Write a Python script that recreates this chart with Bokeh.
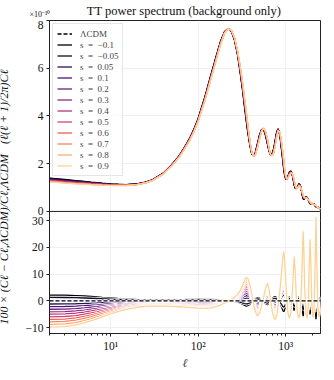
import numpy as np
from bokeh.plotting import figure
from bokeh.layouts import column, row
from bokeh.models import (Range1d, FixedTicker, Span, Legend, LegendItem)
from bokeh.core.properties import value
from bokeh.embed import file_html
from bokeh.resources import INLINE
from bokeh.palettes import Magma256

# ---------------- data ----------------
ell = [2, 3, 4, 5, 6, 7, 8, 10, 12, 15, 20, 25, 30, 40, 50, 60, 70, 80, 90, 100,
       120, 140, 150, 160, 180, 200, 220, 240, 260, 280, 300, 320, 340, 355, 370,
       390, 410, 430, 450, 475, 500, 530, 560, 590, 620, 645, 670, 700, 730, 760,
       790, 820, 860, 900, 930, 950, 970, 1000, 1030, 1060, 1100, 1140, 1180, 1220,
       1250, 1280, 1320, 1360, 1420, 1470, 1520, 1560, 1585, 1610, 1650, 1700, 1760,
       1810, 1860, 1900, 1940, 1990, 2050, 2110, 2170, 2220, 2270, 2330, 2400, 2500]

# LCDM  l(l+1)C_l/2pi  in units of 1e-10
dl_lcdm = [1.37, 1.31, 1.27, 1.24, 1.21, 1.19, 1.17, 1.14, 1.13, 1.12, 1.15, 1.22, 1.32,
           1.60, 1.95, 2.30, 2.68, 3.05, 3.45, 3.87, 4.80, 5.70, 6.08, 6.45, 7.10, 7.52,
           7.66, 7.55, 7.20, 6.65, 5.95, 5.20, 4.40, 3.85, 3.35, 2.80, 2.42, 2.33, 2.45,
           2.80, 3.15, 3.42, 3.45, 3.20, 2.85, 2.55, 2.38, 2.40, 2.60, 2.95, 3.30, 3.45,
           3.20, 2.60, 2.15, 1.85, 1.60, 1.38, 1.35, 1.45, 1.62, 1.68, 1.60, 1.35, 1.15,
           1.00, 0.96, 1.02, 1.15, 1.08, 0.85, 0.65, 0.56, 0.52, 0.55, 0.60, 0.58, 0.50,
           0.40, 0.34, 0.31, 0.32, 0.33, 0.30, 0.24, 0.20, 0.18, 0.17, 0.15, 0.11]

# percent residual of the s = 0.9 curve w.r.t. LCDM
resid_s09 = [-9.8, -9.6, -9.0, -8.2, -7.4, -6.7, -6.0, -4.9, -4.0, -3.2, -2.4, -2.1, -2.0,
             -2.0, -2.1, -2.2, -2.35, -2.5, -2.6, -2.7, -2.8, -2.6, -2.45, -2.2, -1.6, -0.8,
             -0.1, 0.5, 1.3, 2.2, 3.6, 5.6, 7.7, 8.8, 8.3, 6.0, 2.5, -1.0, -4.0, -5.6, -4.8,
             -2.0, 1.5, 4.8, 6.6, 4.5, 0.5, -3.5, -6.2, -7.0, -5.5, -2.0, 4.0, 11.0, 16.5,
             18.4, 16.0, 8.0, 0.5, -4.5, -6.5, -5.0, 1.0, 10.0, 16.6, 12.0, 2.0, -4.5, -6.5,
             -4.0, 6.0, 20.0, 26.0, 20.0, 5.0, -4.5, -6.5, -2.0, 14.0, 23.0, 14.0, -1.0,
             -6.0, -4.0, 14.0, 31.3, 14.0, -2.0, -6.0, -3.0]

s_values = [-0.1, -0.05, 0.05, 0.1, 0.2, 0.3, 0.4, 0.5, 0.6, 0.7, 0.8, 0.9]
# size of each model's residual relative to the s = 0.9 one
resid_scale = [-0.22, -0.13, 0.12, 0.22, 0.32, 0.42, 0.51, 0.61, 0.71, 0.80, 0.90, 1.00]

top_ticks = [0, 2, 4, 6, 8]
bot_ticks = [-10, 0, 10, 20, 30]
x_ticks = [10, 100, 1000]
x_tick_labels = ["10¹", "10²", "10³"]
x_minor = [2, 3, 4, 5, 6, 7, 8, 9, 20, 30, 40, 50, 60, 70, 80, 90,
           200, 300, 400, 500, 600, 700, 800, 900, 2000]

title_text = "TT power spectrum (background only)"
offset_text = "×10⁻¹⁰"
ylabel_top = "(ℓ(ℓ + 1)/2π)Cℓ"
ylabel_bot = "100 × (Cℓ − Cℓ,ΛCDM)/Cℓ,ΛCDM"

TOP_LO, TOP_HI = 0.0, 8.0
BOT_LO, BOT_HI = -12.2, 33.4
X_LO, X_HI = 2, 2500

# ---------------- layout ----------------
W, H = 326, 372
STRIP_H = 20      # title strip above the plot
LAB_W = 22        # y-label strip left of the plot
B_LEFT, B_RIGHT, B_BOT = 25, 6, 34
H_TOP, H_BOT = 194, 124          # pixel heights of the two stacked panels
MW, MH = W - LAB_W, H - STRIP_H
FW = MW - B_LEFT - B_RIGHT
SERIF = "Liberation Serif"

y_default = Range1d(BOT_LO, BOT_HI + (BOT_HI - BOT_LO) * H_TOP / H_BOT)
y_top = Range1d(TOP_LO - (TOP_HI - TOP_LO) * H_BOT / H_TOP, TOP_HI)

p = figure(width=MW, height=MH, x_axis_type="log", x_range=Range1d(X_LO, X_HI),
           y_range=y_default, output_backend="svg", toolbar_location=None,
           min_border_left=B_LEFT, min_border_right=B_RIGHT,
           min_border_top=0, min_border_bottom=B_BOT)
p.extra_y_ranges = {"top": y_top}
p.background_fill_color = "white"
p.border_fill_color = "white"
p.outline_line_color = "#222222"
p.outline_line_width = 1


def top_to_default(v):
    return BOT_HI + (v - TOP_LO) * (y_default.end - BOT_HI) / (TOP_HI - TOP_LO)


ytick_pos = list(bot_ticks) + [top_to_default(v) for v in top_ticks]
ytick_lab = {float(v): (str(v).replace("-", "−")) for v in bot_ticks}
for v in top_ticks:
    ytick_lab[float(top_to_default(v))] = str(v)

yax = p.yaxis[0]
yax.ticker = FixedTicker(ticks=ytick_pos, minor_ticks=[])
yax.major_label_overrides = ytick_lab
xax = p.xaxis[0]
xax.ticker = FixedTicker(ticks=x_ticks, minor_ticks=x_minor)
xax.major_label_overrides = {t: l for t, l in zip(x_ticks, x_tick_labels)}
xax.axis_label = "ℓ"
for ax in (xax, yax):
    ax.major_label_text_font = SERIF
    ax.major_label_text_font_size = "11.5px"
    ax.major_label_text_color = "#111111"
    ax.axis_line_color = "#222222"
    ax.major_tick_line_color = "#222222"
    ax.minor_tick_line_color = "#222222"
    ax.major_tick_out = 3
    ax.major_tick_in = 0
    ax.minor_tick_out = 2
    ax.minor_tick_in = 0
    ax.major_label_standoff = 3
xax.axis_label_text_font = SERIF
xax.axis_label_text_font_style = "italic"
xax.axis_label_text_font_size = "12px"
xax.axis_label_standoff = 1

p.xgrid.grid_line_color = "#ececec"
p.ygrid.grid_line_color = "#ececec"
p.xgrid.grid_line_width = 0.8
p.ygrid.grid_line_width = 0.8

# panel separator (y = 0 of the upper panel)
p.add_layout(Span(location=0, dimension="width", y_range_name="top",
                  line_color="#222222", line_width=1))

colors = [Magma256[int(round(i))] for i in np.linspace(0, 232, len(s_values))]

ell_a = np.array(ell, dtype=float)
dl_a = np.array(dl_lcdm)
res_a = np.array(resid_s09)

# ---------------- upper panel ----------------
r_lcdm_top = p.line(ell_a, dl_a, y_range_name="top", line_color="black",
                    line_width=1.3, line_dash="4 2")
top_renderers = []
for s, sc, c in zip(s_values, resid_scale, colors):
    r = sc * res_a
    dl_s = dl_a * (1 + r / 100.0)
    top_renderers.append(p.line(ell_a, dl_s, y_range_name="top", line_color=c,
                                line_width=1.3))

# ---------------- lower panel ----------------
for s, sc, c in zip(s_values, resid_scale, colors):
    r = sc * res_a
    p.line(ell_a, r, line_color="white", line_width=3.0)
    p.line(ell_a, r, line_color=c, line_width=1.3)
zero = 100.0 * (dl_a - dl_a) / dl_a
p.line(ell_a, zero, line_color="white", line_width=3.0, line_dash="4 2")
p.line(ell_a, zero, line_color="black", line_width=1.3, line_dash="4 2")

# ---------------- legend ----------------
SP = "\u2002"
items = [LegendItem(label="ΛCDM", renderers=[r_lcdm_top])]
for s, rr in zip(s_values, top_renderers):
    items.append(LegendItem(label=("s" + SP + "=" + SP + str(s)).replace("-", "−"),
                            renderers=[rr]))
leg = Legend(items=items, location="top_left", margin=3, padding=4, spacing=0,
             glyph_width=15, glyph_height=11, label_height=11, label_standoff=8,
             label_text_font=SERIF, label_text_font_size="9px",
             border_line_color="#cccccc", border_line_width=1,
             background_fill_alpha=0.8)
p.add_layout(leg)


# ---------------- text strips (title above, y labels at left) ----------------
def strip(w, h):
    f = figure(width=w, height=h, x_range=Range1d(0, w), y_range=Range1d(0, h),
               output_backend="svg", toolbar_location=None,
               min_border=0, min_border_left=0, min_border_right=0,
               min_border_top=0, min_border_bottom=0)
    f.axis.visible = False
    f.grid.visible = False
    f.outline_line_color = None
    f.background_fill_color = "white"
    f.border_fill_color = "white"
    return f


top_strip = strip(W, STRIP_H)
top_strip.text(x=[LAB_W + B_LEFT + FW / 2], y=[STRIP_H - 10], text=[title_text],
               text_font=value(SERIF), text_font_size="12.5px", text_align="center",
               text_baseline="middle", text_color="#111111")
top_strip.text(x=[29], y=[STRIP_H - 14], text=[offset_text],
               text_font=value(SERIF), text_font_size="8px", text_align="left",
               text_baseline="middle", text_color="#111111")

left_strip = strip(LAB_W, MH)
left_strip.text(x=[3.5], y=[MH - H_TOP / 2], text=[ylabel_top], angle=np.pi / 2,
                text_font=value(SERIF), text_font_style="italic", text_font_size="12px",
                text_align="center", text_baseline="middle", text_color="#111111")
left_strip.text(x=[3.5], y=[B_BOT + H_BOT / 2 + 10], text=[ylabel_bot], angle=np.pi / 2,
                text_font=value(SERIF), text_font_style="italic", text_font_size="12px",
                text_align="center", text_baseline="middle", text_color="#111111")

layout = column(top_strip, row(left_strip, p, spacing=0), spacing=0)
open("out.html", "w").write(file_html(layout, INLINE))
